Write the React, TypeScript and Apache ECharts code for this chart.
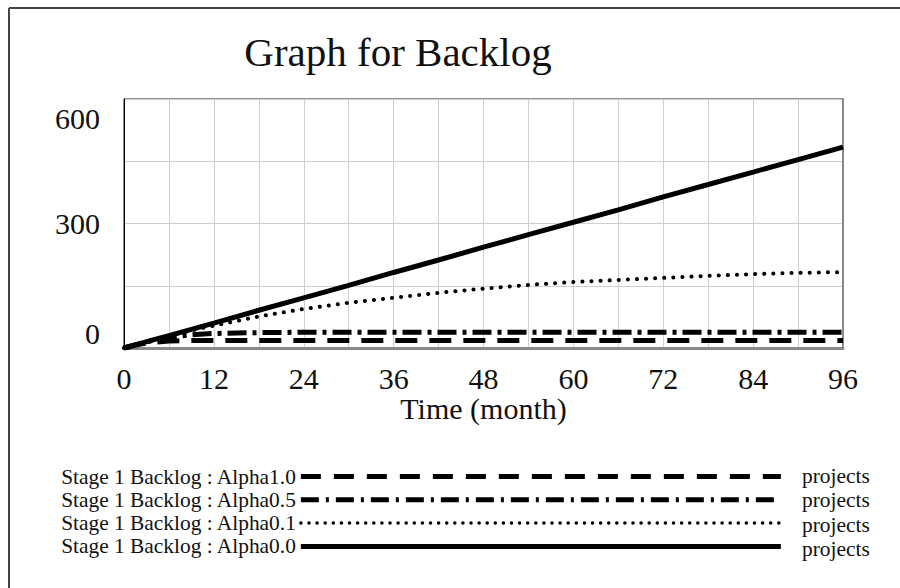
import React, { useEffect, useRef } from "react";
import * as echarts from "echarts";

// ---- data ----
const months = [0, 2, 4, 6, 9, 12, 18, 24, 30, 36, 42, 48, 54, 60, 66, 72, 78, 84, 90, 96];
const alpha10 = [0, 9, 14, 17, 18, 18, 18, 18, 18, 18, 18, 18, 18, 18, 18, 18, 18, 18, 18, 18];
const alpha05 = [0, 10, 19, 26, 32, 35, 37, 38, 38, 38, 38, 38, 38, 38, 38, 38, 38, 38, 38, 38];
const alpha01 = [0, 10, 20, 29, 42, 54, 76, 94, 109, 121, 133, 143, 152, 159, 164, 169, 174, 178, 181, 183];
const alpha00 = [0, 10, 20, 30, 45, 60, 91, 121, 151, 182, 212, 243, 273, 303, 333, 364, 394, 424, 454, 484];

const seriesNames = [
  "Stage 1 Backlog : Alpha1.0",
  "Stage 1 Backlog : Alpha0.5",
  "Stage 1 Backlog : Alpha0.1",
  "Stage 1 Backlog : Alpha0.0",
];
const seriesValues = [alpha10, alpha05, alpha01, alpha00];
const unitLabel = "projects";

const titleText = "Graph for Backlog";
const xAxisName = "Time (month)";
const xMin = 0;
const xMax = 96;
const xStep = 12;
const yMin = 0;
const yMax = 600;
const yStep = 300;

const FONT = '"Liberation Serif", "DejaVu Serif", "Times New Roman", serif';
const TXT = "#111";

const lineStyles: any[] = [
  { color: "#000", width: 5, type: [22, 12] },
  { color: "#000", width: 5, type: [19, 6, 4, 6] },
  { color: "#000", width: 4, type: [0.1, 9], cap: "round" },
  { color: "#000", width: 5, type: "solid" },
];
const legendLineStyles: any[] = [
  { color: "#000", width: 5, type: [20, 13] },
  { color: "#000", width: 5, type: [18, 7, 3, 7] },
  { color: "#000", width: 3.5, type: [0.1, 8], cap: "round" },
  { color: "#000", width: 5, type: "solid" },
];

export default function App() {
  const ref = useRef<HTMLDivElement>(null);
  useEffect(() => {
    if (!ref.current) return;
    const chart = echarts.init(ref.current, undefined, { renderer: "svg" });
    const legendTop = 466;
    const rowStep = 24.3;
    const option: any = {
      animation: false,
      backgroundColor: "#fff",
      title: {
        text: titleText,
        left: 398,
        top: 31,
        textAlign: "center",
        padding: 0,
        textStyle: { fontFamily: FONT, fontSize: 41, fontWeight: "normal", color: TXT },
      },
      grid: {
        left: 124,
        right: 57,
        top: 99,
        bottom: 240,
        show: true,
        borderColor: "#222",
        borderWidth: 1,
        backgroundColor: "transparent",
      },
      xAxis: {
        type: "value",
        min: xMin,
        max: xMax,
        interval: xStep,
        name: xAxisName,
        nameLocation: "middle",
        nameGap: 43,
        nameTextStyle: { fontFamily: FONT, fontSize: 30, color: TXT },
        axisLine: { show: true, lineStyle: { color: "#8a8a8a", width: 3 } },
        axisTick: { show: false },
        axisLabel: { fontFamily: FONT, fontSize: 30, color: TXT, margin: 15 },
        splitLine: { show: true, lineStyle: { color: "#cfcfcf", width: 1 } },
        minorTick: { show: false, splitNumber: 2 },
        minorSplitLine: { show: true, lineStyle: { color: "#cfcfcf", width: 1 } },
      },
      yAxis: [
        {
          type: "value",
          min: yMin,
          max: yMax,
          interval: yStep,
          axisLine: { show: true, lineStyle: { color: "#000", width: 1 } },
          axisTick: { show: false },
          axisLabel: {
            fontFamily: FONT,
            fontSize: 30,
            color: TXT,
            margin: 24,
            verticalAlignMaxLabel: "top",
            verticalAlignMinLabel: "bottom",
            formatter: (v: number) =>
              v === yMax ? `{t|${v}}` : v === yMin ? `{b|${v}}` : `{m|${v}}`,
            rich: {
              t: { fontFamily: FONT, fontSize: 30, color: TXT, lineHeight: 38 },
              m: { fontFamily: FONT, fontSize: 30, color: TXT, lineHeight: 30 },
              b: { fontFamily: FONT, fontSize: 30, color: TXT, lineHeight: 30 },
            },
          },
          splitLine: { show: true, lineStyle: { color: "#cfcfcf", width: 1 } },
          minorTick: { show: false, splitNumber: 2 },
          minorSplitLine: { show: true, lineStyle: { color: "#cfcfcf", width: 1 } },
        },
        {
          type: "value",
          position: "right",
          min: yMin,
          max: yMax,
          interval: yStep,
          axisLine: { show: true, lineStyle: { color: "#8a8a8a", width: 2 } },
          axisTick: { show: false },
          axisLabel: { show: false },
          splitLine: { show: false },
        },
      ],
      legend: {
        type: "plain",
        orient: "vertical",
        left: 60,
        top: legendTop,
        padding: 0,
        align: "right",
        itemWidth: 480,
        itemHeight: 22,
        itemGap: rowStep - 22,
        selectedMode: false,
        textStyle: { fontFamily: FONT, fontSize: 21.4, color: TXT },
        data: seriesNames.map((n, i) => ({
          name: n,
          lineStyle: legendLineStyles[i],
          itemStyle: { color: "rgba(0,0,0,0)", borderWidth: 0, opacity: 0 },
        })),
      },
      graphic: [
        {
          type: "line",
          shape: { x1: 9, y1: 8, x2: 900, y2: 8 },
          style: { stroke: "#444", lineWidth: 2 },
          silent: true,
        },
        {
          type: "line",
          shape: { x1: 9, y1: 8, x2: 9, y2: 588 },
          style: { stroke: "#444", lineWidth: 2 },
          silent: true,
        },
        ...seriesNames.map((_, i) => ({
          type: "text",
          left: 802,
          top: legendTop - 1 + i * rowStep,
          style: {
            text: unitLabel,
            font: `21.4px ${FONT}`,
            fill: TXT,
            lineHeight: 22,
          },
          silent: true,
        })),
      ],
      series: seriesNames.map((n, i) => ({
        name: n,
        type: "line",
        yAxisIndex: 0,
        symbol: "none",
        showSymbol: false,
        lineStyle: lineStyles[i],
        itemStyle: { color: "#000" },
        z: 2 + i,
        data: months.map((m, j) => [m, seriesValues[i][j]]),
      })),
    };
    chart.setOption(option);
    return () => chart.dispose();
  }, []);
  return (
    <div
      ref={ref}
      style={{ position: "fixed", left: 0, top: 0, width: 900, height: 588, background: "#fff" }}
    />
  );
}
